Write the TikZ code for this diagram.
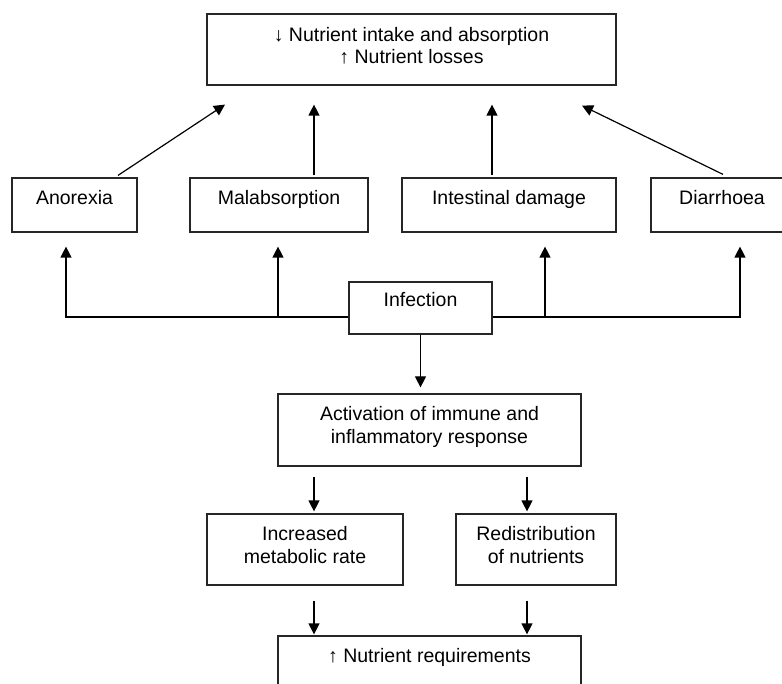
\documentclass[tikz,border=0pt]{standalone}
\usepackage{fontspec}
\setmainfont{Liberation Sans}
\usetikzlibrary{arrows.meta,calc}

\begin{document}
\begin{tikzpicture}[x=1pt,y=-1pt,
	box/.style={draw=black!85, line width=1.2pt, inner sep=0pt, align=center, text height=27pt, text depth=27pt, font=\fontsize{19.5}{22.4}\selectfont},
	two/.style={text height=49pt, text depth=22pt},
	arr/.style={-{Triangle[width=11pt,length=11pt]}, line width=1.2pt}]
	\useasboundingbox (0,0) rectangle (782,684);
	\node (T)    at (411.5, 49.5)	[box, minimum width=409pt, text height=50pt, text depth=21pt]	{↓ Nutrient intake and absorption\\ ↑ Nutrient losses};
	\node (ano)  at ( 74.5,205)	[box, minimum width=125pt]	{Anorexia};
	\node (mal)  at (279  ,205)	[box, minimum width=178pt]	{Malabsorption};
	\node (intd) at (509  ,205)	[box, minimum width=214pt]	{Intestinal damage};
	\node (dia)  at (722  ,205)	[box, minimum width=142pt]	{Diarrhoea};
	\node (inf)  at (420.5,308)	[box, minimum width=143pt, text height=25pt]	{Infection};
	\node (act)  at (429.5,430)	[box, two, minimum width=303pt, text depth=23pt]	{Activation of immune and\\ inflammatory response};
	\node (inc)  at (305  ,549.5)	[box, two, minimum width=196pt]	{Increased\\ metabolic rate};
	\node (red)  at (536  ,549.5)	[box, two, minimum width=160pt]	{Redistribution\\ of nutrients};
	\node (req)  at (429.5,662)	[box, minimum width=303pt, text height=26pt, text depth=26pt]	{↑ Nutrient requirements};
	% up to the top box
	\draw[arr] ($(ano.north)+(43.5,-2)$) -- ($(T.south)+(-186.5,19)$);
	\draw[arr] ($(mal.north)+(35,-2)$) -- ($(T.south)+(-97.5,19)$);
	\draw[arr] ($(intd.north)+(-17,-2)$) -- ($(T.south)+(80.5,19)$);
	\draw[arr] ($(dia.north)+(1,-3)$) -- ($(T.south)+(170.5,20)$);
	% infection branches
	\coordinate (jl) at ($(inf.west)+(0,9)$);
	\coordinate (jr) at ($(inf.east)+(0,9)$);
	\draw[arr] (jl) -| ($(ano.south)+(-8.5,14)$);
	\draw[arr] ($(jl -| mal.south)+(-1,0)$) -- ($(mal.south)+(-1,14)$);
	\draw[arr] ($(jr -| intd.south)+(36,0)$) -- ($(intd.south)+(36,14)$);
	\draw[arr] (jr) -| ($(dia.south)+(18,14)$);
	\draw[arr] (inf.south) -- ($(act.north)+(-9,-6)$);
	% lower part
	\draw[arr] ($(act.south -| inc.north)+(9,10)$) -- ($(inc.north)+(9,-2)$);
	\draw[arr] ($(act.south -| red.north)+(-9,10)$) -- ($(red.north)+(-9,-2)$);
	\draw[arr] ($(inc.south)+(9,15)$) -- ($(req.north -| inc.south)+(9,-1)$);
	\draw[arr] ($(red.south)+(-9,15)$) -- ($(req.north -| red.south)+(-9,-1)$);
\end{tikzpicture}
\end{document}
